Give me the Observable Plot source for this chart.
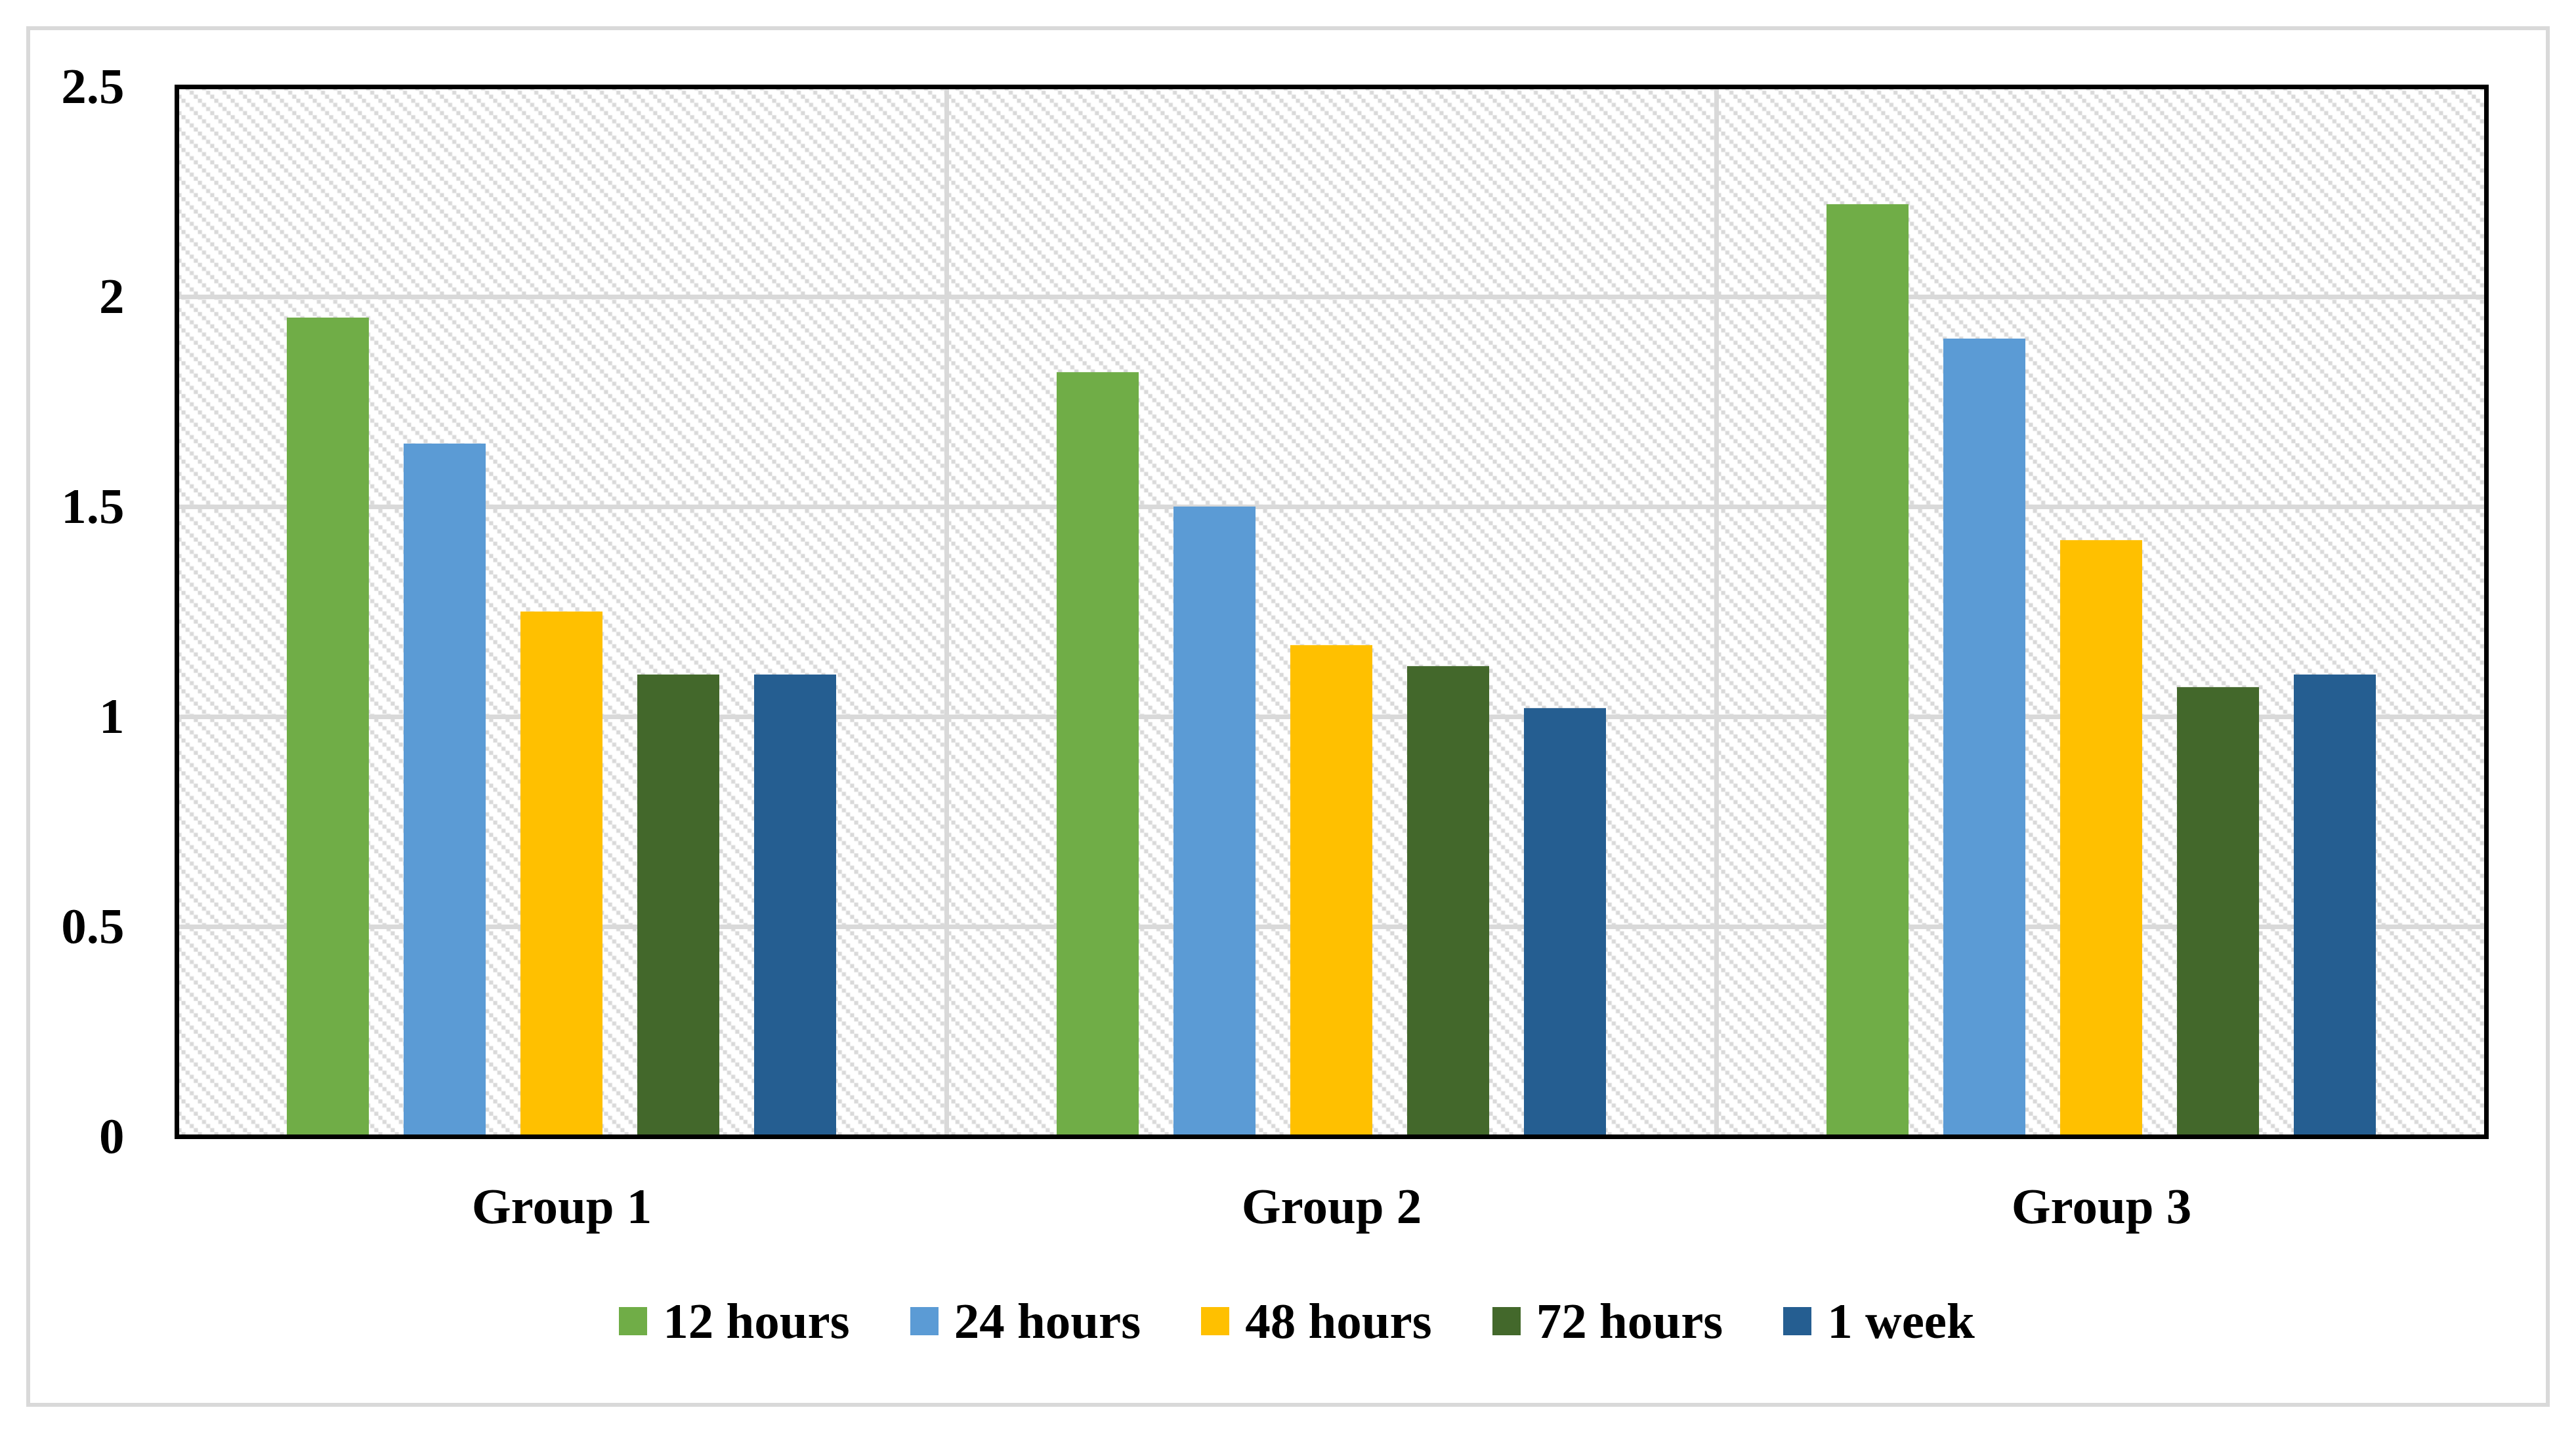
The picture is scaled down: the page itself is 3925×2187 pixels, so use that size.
<!DOCTYPE html>
<html>
<head>
<meta charset="utf-8">
<script src="https://cdn.jsdelivr.net/npm/d3@7"></script>
<script src="https://cdn.jsdelivr.net/npm/@observablehq/plot@0.6"></script>
<style>
  html, body { margin: 0; padding: 0; background: #fff; }
  #wrap { position: relative; width: 3925px; height: 2187px; overflow: hidden; background: #fff; }
  #border { position: absolute; left: 40px; top: 40px; width: 3845px; height: 2104px; box-sizing: border-box; border: 6px solid #d9d9d9; }
  #chart { position: absolute; left: 0; top: 0; }
  #legend { position: absolute; left: 0; top: 1968px; width: 3952px; height: 90px; display: flex; justify-content: center; align-items: center;
            font-family: "Liberation Serif", serif; font-weight: bold; font-size: 77px; color: #000; }
  .item { display: flex; align-items: center; margin: 0 46px; }
  .sw { width: 43px; height: 43px; margin-right: 24px; }
</style>
</head>
<body>
<div id="wrap">
  <div id="border"></div>
  <div id="chart"></div>
  <div id="legend"></div>
</div>
<script>
const groups = ["Group 1", "Group 2", "Group 3"];
const series = ["12 hours", "24 hours", "48 hours", "72 hours", "1 week"];
const colors = ["#70ad47", "#5b9bd5", "#ffc000", "#43682b", "#255e91"];
const values12h = [1.95, 1.82, 2.22];
const values24h = [1.65, 1.50, 1.90];
const values48h = [1.25, 1.17, 1.42];
const values72h = [1.10, 1.12, 1.07];
const values1w  = [1.10, 1.02, 1.10];
const yTicks = [0, 0.5, 1, 1.5, 2, 2.5];
const yTickLabels = ["0", "0.5", "1", "1.5", "2", "2.5"];

const seriesValues = [values12h, values24h, values48h, values72h, values1w];
const data = [];
groups.forEach((g, i) => series.forEach((s, j) => data.push({group: g, series: s, value: seriesValues[j][i]})));

const defs = () => {
  const d = d3.create("svg:defs");
  const p = d.append("pattern").attr("id", "hatch").attr("patternUnits", "userSpaceOnUse")
    .attr("width", 25).attr("height", 25);
  p.append("rect").attr("width", 25).attr("height", 25).attr("fill", "#fff");
  for (let k = 0; k < 4; k++) {
    p.append("rect").attr("x", k * 6.25).attr("y", k * 6.25).attr("width", 6.25).attr("height", 6.25).attr("fill", "#d9d9d9");
  }
  return d.node();
};

const chart = Plot.plot({
  width: 3925,
  height: 1920,
  marginTop: 132,
  marginLeft: 268,
  marginRight: 136,
  marginBottom: 188,
  style: {fontFamily: "Liberation Serif, serif", fontWeight: "bold", fontSize: "77px", color: "#000", background: "transparent", overflow: "visible"},
  fx: {domain: groups, padding: 0, label: null, axis: "bottom", tickSize: 0, tickPadding: 77},
  x: {domain: series, axis: null, paddingInner: 0.3, paddingOuter: 0.93},
  y: {domain: [0, 2.5], ticks: yTicks, tickFormat: (d) => yTickLabels[yTicks.indexOf(d)], label: null, tickSize: 0, tickPadding: 80},
  color: {domain: series, range: colors},
  marks: [
    defs,
    Plot.frame({fill: "url(#hatch)"}),
    Plot.gridY(yTicks.slice(1, -1), {stroke: "#d9d9d9", strokeOpacity: 1, strokeWidth: 7}),
    Plot.frame({stroke: "#d9d9d9", strokeWidth: 7}),
    Plot.barY(data, {fx: "group", x: "series", y: "value", fill: "series"}),
    Plot.frame({facet: "super", stroke: "#000", strokeWidth: 7})
  ]
});
document.getElementById("chart").appendChild(chart);

const legend = document.getElementById("legend");
series.forEach((s, j) => {
  const it = document.createElement("div");
  it.className = "item";
  const sw = document.createElement("div");
  sw.className = "sw";
  sw.style.background = colors[j];
  const t = document.createElement("span");
  t.textContent = s;
  it.appendChild(sw);
  it.appendChild(t);
  legend.appendChild(it);
});
</script>
</body>
</html>
